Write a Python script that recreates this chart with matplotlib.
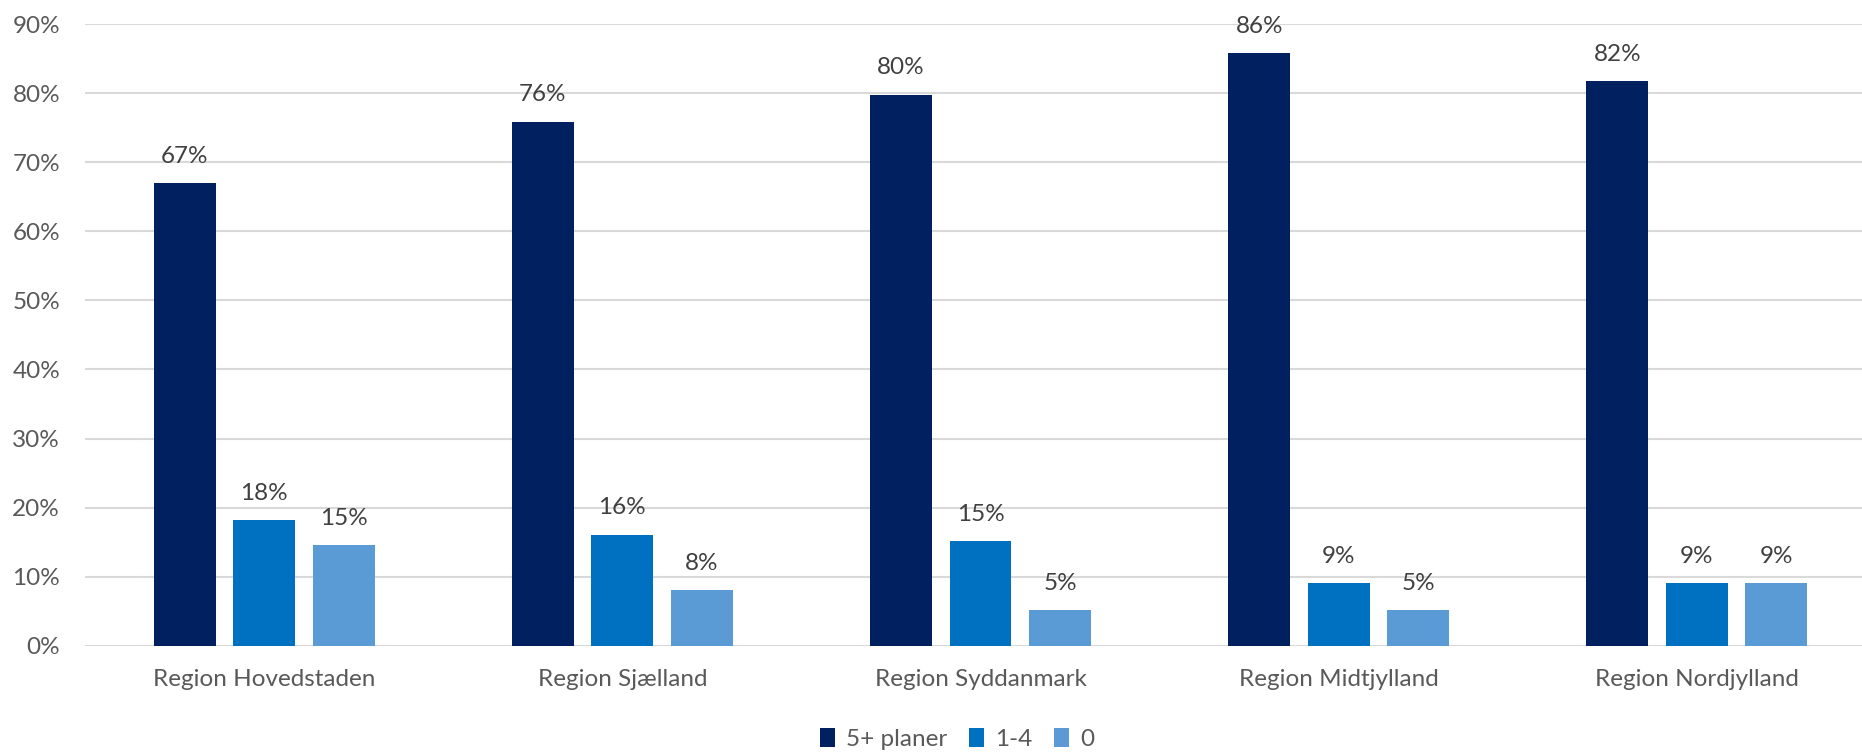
import numpy as np
import matplotlib
matplotlib.use("Agg")
import matplotlib.pyplot as plt
from matplotlib.ticker import PercentFormatter

# ---------------------------------------------------------------------------
# Data
# ---------------------------------------------------------------------------
regions = ["Region Hovedstaden", "Region Sjælland", "Region Syddanmark",
           "Region Midtjylland", "Region Nordjylland"]
series_names = ["5+ planer", "1-4", "0"]
plans_5plus = [67.0, 75.9, 79.8, 85.8, 81.8]
plans_1_4 = [18.2, 16.1, 15.1, 9.1, 9.1]
plans_0 = [14.6, 8.0, 5.2, 5.1, 9.1]
yticks = [0, 10, 20, 30, 40, 50, 60, 70, 80, 90]

colors = ["#002060", "#0070C0", "#5B9BD5"]
text_color = "#595959"
grid_color = "#D9D9D9"
fs = 17.5

plt.rcParams["font.family"] = ["Lato", "DejaVu Sans"]

fig = plt.figure(figsize=(18.62, 7.52), dpi=100)
# plot area runs slightly past the right edge, like the cropped original
ax = fig.add_axes([85 / 1862, (752 - 645.7) / 752, 1791 / 1862, 621.5 / 752])

x = np.arange(len(regions))
width = 0.173
step = 0.222
all_series = [plans_5plus, plans_1_4, plans_0]

for i, (vals, name) in enumerate(zip(all_series, series_names)):
    pos = x + (i - 1) * step
    bars = ax.bar(pos, vals, width, color=colors[i], label=name, zorder=3)
    for b, v in zip(bars, vals):
        ax.annotate(f"{v:.0f}%", (b.get_x() + b.get_width() / 2, v),
                    xytext=(0, 14.5), textcoords="offset points",
                    ha="center", va="baseline", fontsize=fs,
                    color="#404040")

ax.set_xlim(-0.5, len(regions) - 0.5)
ax.set_ylim(0, 90)
ax.set_yticks(yticks)
ax.yaxis.set_major_formatter(PercentFormatter(decimals=0))
ax.set_xticks(x)
ax.set_xticklabels(regions)
ax.tick_params(axis="both", length=0, labelsize=fs, labelcolor=text_color)
ax.tick_params(axis="y", pad=18)
ax.tick_params(axis="x", pad=17)

ax.grid(axis="y", color=grid_color, linewidth=1.5, zorder=0)
for s in ax.spines.values():
    s.set_visible(False)

fig.legend(loc="center", bbox_to_anchor=(957 / 1862, 1 - 739 / 752),
           ncol=3, frameon=False, fontsize=fs, labelcolor=text_color,
           handlelength=0.62, handleheight=0.8, handletextpad=0.45,
           columnspacing=0.9)

fig.savefig("out.png", dpi=100, facecolor="white")
